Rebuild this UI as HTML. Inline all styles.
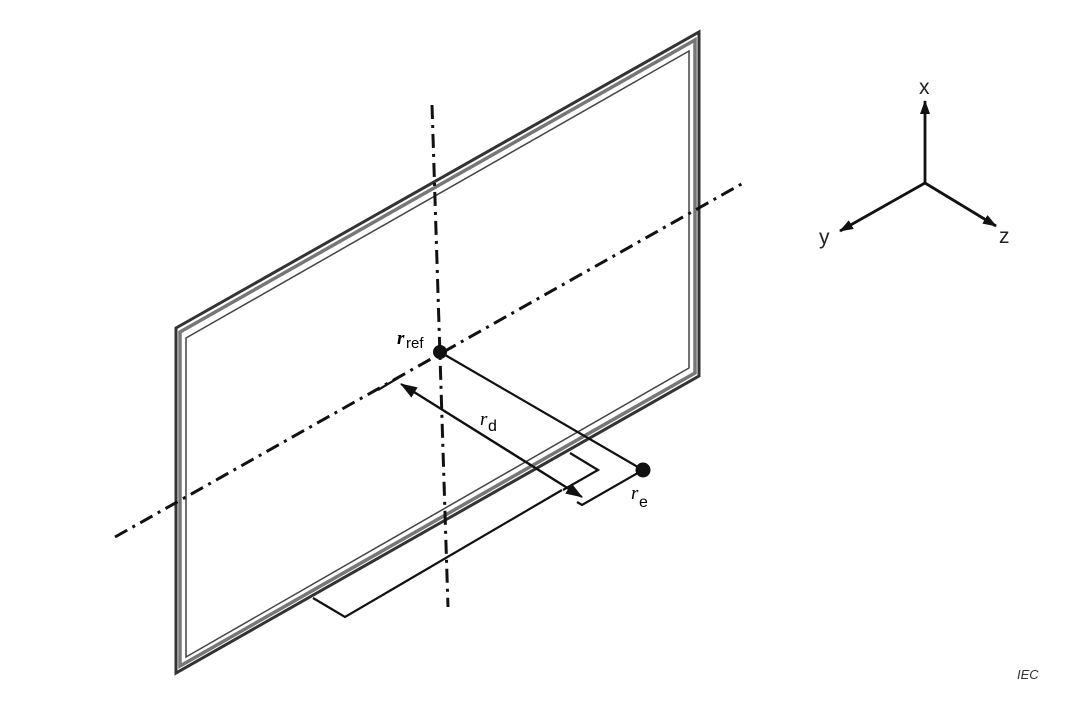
<!DOCTYPE html>
<html><head><style>body{margin:0;background:#fff}svg{display:block}</style></head><body>
<svg width="1080" height="724" viewBox="0 0 1080 724" xmlns="http://www.w3.org/2000/svg" font-family="Liberation Sans, sans-serif">
<defs><marker id="a" markerWidth="14" markerHeight="10" refX="13" refY="5" orient="auto" markerUnits="userSpaceOnUse"><path d="M0,0 L14,5 L0,10 z" fill="#111"/></marker>
<marker id="b" markerWidth="17" markerHeight="12" refX="16" refY="6" orient="auto" markerUnits="userSpaceOnUse"><path d="M0,0 L17,6 L0,12 z" fill="#111"/></marker></defs>
<g fill="none" stroke-linejoin="miter">
<polygon points="176,328 699,32 699,376 176,673" stroke="#333" stroke-width="3"/>
<polygon points="180,332 695,40 695,373 180,666" stroke="#777" stroke-width="3.5"/>
<polygon points="186,338 689,51 689,368 186,657" stroke="#444" stroke-width="1.5"/>
</g>
<g stroke="#111" stroke-width="3" fill="none" stroke-dasharray="14,6,3,6">
<line x1="432" y1="105" x2="448" y2="607"/>
<line x1="115" y1="537" x2="745" y2="182"/>
</g>
<g stroke="#111" stroke-width="2.2" fill="none">
<polyline points="313,598 345,617 562,490"/>
<polyline points="570,453 598,470 563,490"/>
<line x1="440" y1="352" x2="643" y2="470"/>
<polyline points="643,470 582,505 577,502"/>
<line x1="378" y1="390" x2="398" y2="378"/>
<line x1="403" y1="385" x2="582" y2="497" marker-end="url(#b)"/>
<line x1="580" y1="496" x2="401" y2="384" marker-end="url(#b)"/>
</g>
<circle cx="440" cy="352" r="7" fill="#111"/>
<circle cx="643" cy="470" r="7.5" fill="#111"/>
<text x="397" y="344" font-size="19" font-style="italic" font-family="Liberation Serif, serif" font-weight="bold">r</text>
<text x="406" y="348" font-size="15">ref</text>
<text x="480" y="425" font-size="19" font-style="italic" font-family="Liberation Serif, serif">r</text>
<text x="488" y="431" font-size="16">d</text>
<text x="631" y="499" font-size="19" font-style="italic" font-family="Liberation Serif, serif">r</text>
<text x="639" y="507" font-size="16">e</text>
<g stroke="#111" stroke-width="2.8">
<line x1="925" y1="183" x2="925" y2="101" marker-end="url(#a)"/>
<line x1="925" y1="183" x2="840" y2="231" marker-end="url(#a)"/>
<line x1="925" y1="183" x2="996" y2="226" marker-end="url(#a)"/>
</g>
<text x="919" y="94" font-size="21" fill="#222">x</text>
<text x="819" y="244" font-size="21" fill="#222">y</text>
<text x="999" y="243" font-size="21" fill="#222">z</text>
<text x="1017" y="679" font-size="13" font-style="italic" fill="#333">IEC</text>
</svg>
</body></html>
